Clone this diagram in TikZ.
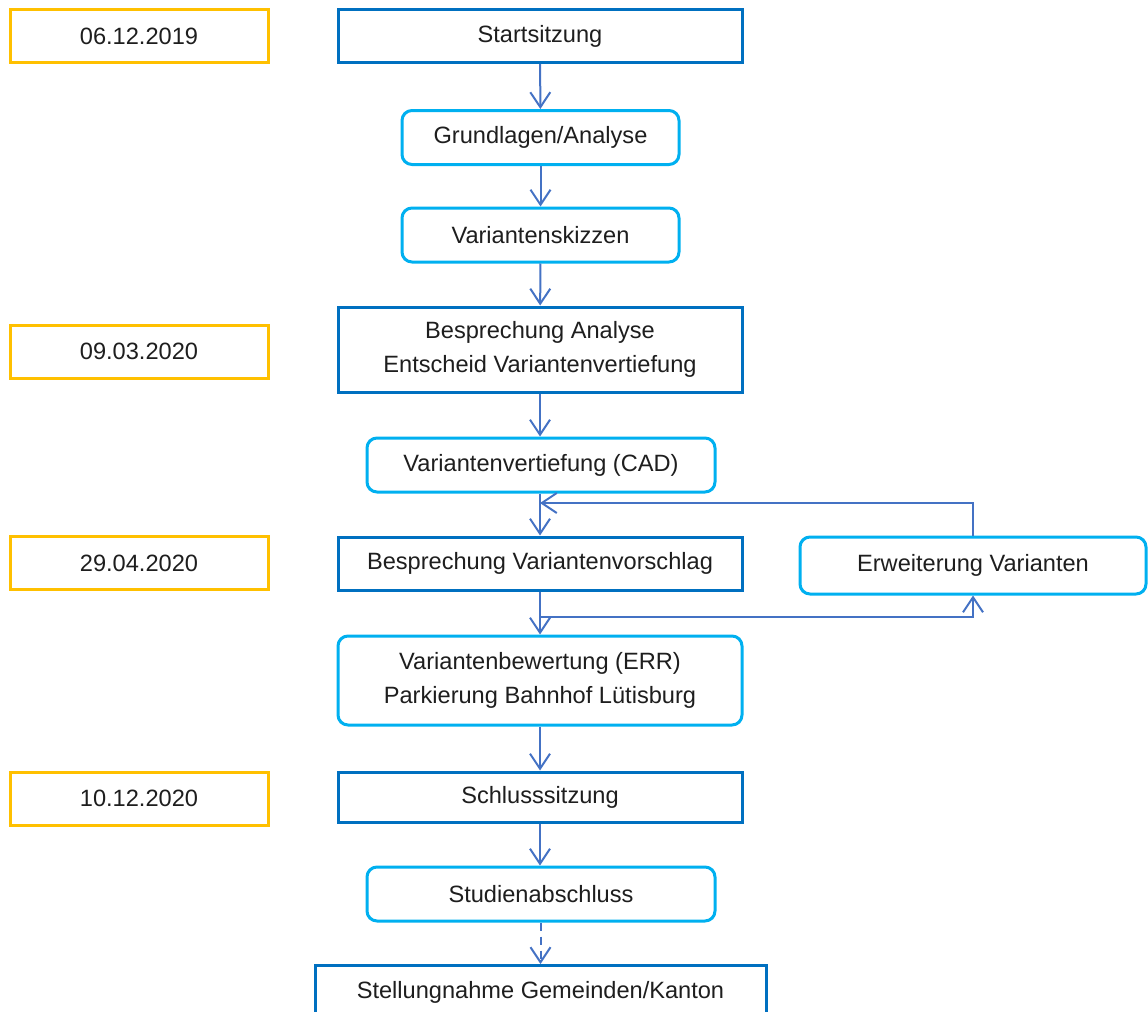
\documentclass[tikz,border=0pt]{standalone}
\usepackage{fontspec}
\setmainfont{Liberation Sans}
\usepackage{xcolor}
\usepackage{tikz}
\usetikzlibrary{arrows.meta,positioning}
\definecolor{plDate}{HTML}{FFC000}
\definecolor{plMeet}{HTML}{0070C0}
\definecolor{plTask}{HTML}{00B0F0}
\definecolor{plFlow}{HTML}{4472C4}
\definecolor{plInk}{HTML}{1E1E1E}
\tikzset{
  pl diagram/.style={font=\fontsize{11.8}{17}\selectfont, text=plInk,
    line join=miter},
  pl box/.style={fill=white, line width=1.5pt, align=center, inner sep=0pt},
  pl date/.style={pl box, draw=plDate, minimum width=129pt, minimum height=26.5pt},
  pl meeting/.style={pl box, draw=plMeet, minimum width=202pt, minimum height=26.5pt},
  pl task/.style={pl box, draw=plTask, rounded corners=5pt, minimum height=27pt},
  pl flow/.style={-{Straight Barb[length=7.5pt,width=10pt,line width=1pt]},
    draw=plFlow, line width=1pt},
  pl later/.style={pl flow, dash pattern=on 4pt off 3pt}
}
\begin{document}
\begin{tikzpicture}[pl diagram,x=0.5pt,y=-0.5pt]
\useasboundingbox (0,0) rectangle (1148,1012);
\clip (0,0) rectangle (1148,1012);
% dates
\node[pl date] (d1) at (139,36) {06.12.2019};
\node[pl date] (d2) at (139,351.5) {09.03.2020};
\node[pl date] (d3) at (139,563) {29.04.2020};
\node[pl date] (d4) at (139,798.5) {10.12.2020};
% main column
\node[pl meeting] (start) at (540,36) {Startsitzung};
\node[pl task, minimum width=138.5pt] (grund) at (540.5,137.5) {Grundlagen/Analyse};
\node[pl task, minimum width=138.5pt] (skizzen) at (540.5,235) {Variantenskizzen};
\node[pl meeting, minimum height=42.5pt] (analyse) at (540,349.5)
  {Besprechung Analyse\\Entscheid Variantenvertiefung};
\node[pl task, minimum width=174pt] (cad) at (541,465) {Variantenvertiefung (CAD)};
\node[pl meeting] (vorschlag) at (540,563.5) {Besprechung Variantenvorschlag};
\node[pl task, minimum width=173pt, minimum height=28.5pt] (erw) at (973,565.5)
  {Erweiterung Varianten};
\node[pl task, minimum width=202pt, minimum height=44.5pt] (bewert) at (540,680.5)
  {Variantenbewertung (ERR)\\Parkierung Bahnhof Lütisburg};
\node[pl meeting, minimum height=25pt] (schluss) at (540,797) {Schlusssitzung};
\node[pl task, minimum width=174pt] (studien) at (541,894) {Studienabschluss};
\node[pl meeting, minimum width=225.5pt] (stell) at (540.5,992)
  {Stellungnahme Gemeinden/Kanton};
% loop points
\coordinate (upbend) at (540,503);
\coordinate (lowbend) at (540,617);
% connectors
\draw[pl flow] (start) -- (grund);
\draw[pl flow] (grund) -- (skizzen);
\draw[pl flow] (skizzen) -- (analyse);
\draw[pl flow] (analyse.south -| 540,0) -- (cad.north -| 540,0);
\draw[pl flow] (cad.south -| 540,0) -- (vorschlag);
\draw[pl flow] (erw.north) |- (upbend);
\draw[pl flow] (vorschlag) -- (bewert);
\draw[pl flow] (lowbend) -| (erw.south);
\draw[pl flow] (bewert) -- (schluss);
\draw[pl flow] (schluss.south) -- (studien.north -| schluss.south);
\draw[pl later] (studien.south -| stell.north) -- (stell.north);
\end{tikzpicture}
\end{document}
